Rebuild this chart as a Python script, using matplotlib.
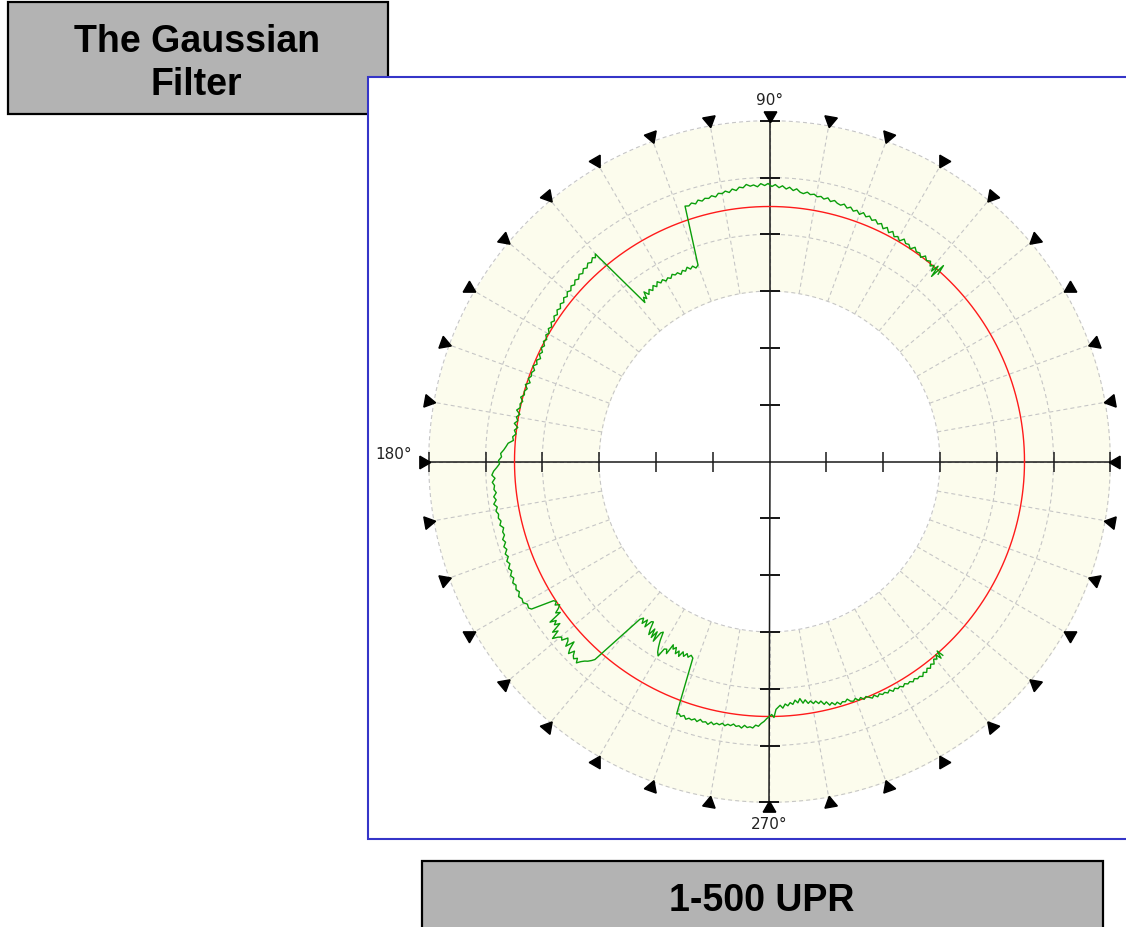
import numpy as np
import matplotlib
matplotlib.use('Agg')
import matplotlib.pyplot as plt
from matplotlib.patches import Rectangle

# ---- data (angle in degrees, radius in chart units) ----
trace_deg = [
    48.0, 48.4, 48.8, 49.2, 49.6, 50.0, 50.6, 51.2, 52.0, 52.8, 53.5, 54.2, 55.0, 55.8,
    56.5, 57.3, 58.0, 58.8, 59.5, 60.3, 61.0, 61.8, 62.5, 63.3, 64.0, 64.8, 65.5, 66.3,
    67.0, 67.8, 68.5, 69.3, 70.0, 70.8, 71.5, 72.3, 73.0, 73.8, 74.5, 75.3, 76.0, 76.8,
    77.5, 78.3, 79.0, 79.8, 80.5, 81.3, 82.0, 82.8, 83.5, 84.3, 85.0, 85.8, 86.5, 87.3,
    88.0, 88.8, 89.5, 90.3, 91.0, 91.8, 92.5, 93.3, 94.0, 94.8, 95.5, 96.3, 97.0, 97.8,
    98.5, 99.3, 100.0, 100.8, 101.5, 102.3, 103.0, 103.8, 104.5, 105.3, 106.0, 106.8,
    107.5, 108.3,
    110.0, 110.8, 111.5, 112.3, 113.0, 113.8, 114.5, 115.3, 116.0, 116.8, 117.5, 118.3,
    119.0, 119.8, 120.5, 121.3, 122.0, 122.8, 123.5, 124.3, 125.0, 125.8, 126.5, 127.0,
    127.5, 128.1,
    130.0, 130.5, 131.0, 131.8, 132.5, 133.3, 134.0, 134.8, 135.5, 136.3, 137.0, 137.8,
    138.5, 139.3, 140.0, 140.8, 141.5, 142.3, 143.0, 143.8, 144.5, 145.3, 146.0, 146.8,
    147.5, 148.3, 149.0, 149.8, 150.5, 151.3, 152.0, 152.8, 153.5, 154.3, 155.0, 155.8,
    156.5, 157.3, 158.0, 158.8, 159.5, 160.3, 161.0, 161.8, 162.5, 163.3, 164.0, 164.8,
    165.5, 166.3, 167.0, 167.8, 168.5, 169.3, 170.0, 170.8, 171.5, 172.3, 173.0, 173.8,
    174.5, 175.3, 176.0, 176.8, 177.5, 178.3, 179.0, 179.8, 180.5, 181.3, 182.0, 182.8,
    183.5, 184.3, 185.0, 185.8, 186.5, 187.3, 188.0, 188.8, 189.5, 190.3, 191.0, 191.8,
    192.5, 193.3, 194.0, 194.8, 195.5, 196.3, 197.0, 197.8, 198.5, 199.3, 200.0, 200.8,
    201.5, 202.3, 203.0, 203.8, 204.5, 205.3, 206.0, 206.8, 207.5, 208.3, 209.0, 209.8,
    210.5, 211.3, 211.8,
    212.8, 213.3, 213.8, 214.3, 214.8, 215.3, 215.8, 216.2, 216.7, 217.2, 217.7, 218.2,
    218.7, 219.2, 219.7, 220.2, 220.7, 221.2, 221.7, 222.2, 222.7, 223.2, 223.7, 224.2,
    224.7, 225.2, 225.7, 226.2, 226.7, 227.2, 227.7, 228.2, 228.6,
    230.6, 231.2, 231.8, 232.4, 233.0, 233.6, 234.1, 234.6, 235.1, 235.6, 236.1, 236.6,
    237.1, 237.6, 238.1, 238.6, 239.1, 239.6, 240.2, 240.7, 241.3, 241.8, 242.3, 242.8,
    243.4, 243.9, 244.5, 245.0, 245.6, 246.2, 246.8, 247.4, 248.0, 248.7,
    249.8, 250.3, 250.8, 251.4, 252.0, 252.6, 253.2, 253.8, 254.4, 255.0, 255.6, 256.2,
    256.8, 257.4, 258.0, 258.6, 259.2, 259.8, 260.4, 261.0, 261.6, 262.2, 262.8, 263.4,
    264.0, 264.6, 265.2, 265.8, 266.4, 267.0, 267.6, 268.2, 268.8, 269.4, 270.0, 270.5,
    271.0, 271.5, 272.0, 272.5, 273.1, 273.7, 274.3, 274.9, 275.5, 276.1, 276.7, 277.3,
    277.9, 278.5, 279.1, 279.7, 280.3, 280.9, 281.5, 282.1, 282.7, 283.3, 283.9, 284.5,
    285.1, 285.7, 286.3, 286.9, 287.5, 288.1, 288.7, 289.3, 289.9, 290.5, 291.1, 291.7,
    292.3, 292.9, 293.5, 294.1, 294.7, 295.3, 295.9, 296.5, 297.1, 297.7, 298.3, 298.9,
    299.5, 300.1, 300.7, 301.3, 301.9, 302.5, 303.1, 303.7, 304.3, 304.9, 305.5, 306.1,
    306.7, 307.3, 307.9, 308.5, 309.1, 309.7, 310.3, 310.7, 311.1, 311.5, 311.8,
]
trace_r = [
    252, 262, 246, 258, 250, 256, 253, 257, 255, 258, 254, 257, 256, 259,
    255, 258, 257, 260, 256, 259, 257, 261, 258, 262, 259, 263, 261, 264,
    262, 265, 263, 266, 263, 266, 264, 267, 265, 268, 266, 267, 269, 267,
    270, 268, 270, 269, 271, 270, 272, 270, 271, 274, 272, 275, 273, 276,
    274, 277, 275, 278, 276, 278, 275, 277, 276, 278, 275, 276, 273, 275,
    272, 274, 272, 273, 270, 272, 270, 271, 269, 271, 268, 270,
    268, 269,
    209, 207, 210, 208, 211, 208, 210, 207, 210, 209, 211, 208,
    210, 208, 211, 209, 212, 208, 211, 207, 210, 206, 211, 204,
    207, 202,
    271, 268, 270, 267, 269, 266, 268, 265, 267, 264, 266, 263,
    265, 262, 264, 261, 263, 260, 262, 259, 261, 258, 260, 257,
    259, 256, 258, 255, 257, 254, 256, 253, 255, 252, 254, 251,
    254, 252, 255, 252, 254, 253, 255, 252, 256, 253, 255, 254,
    257, 254, 256, 255, 258, 254, 257, 255, 258, 254, 257, 255,
    258, 257, 262, 264, 266, 269, 268, 271, 270, 273, 276, 278,
    275, 278, 276, 277, 275, 278, 276, 279, 276, 278, 276, 277,
    275, 277, 274, 276, 275, 278, 276, 279, 277, 280, 278, 281,
    279, 282, 280, 283, 281, 284, 282, 284, 282, 285, 283, 284,
    281, 282, 280,
    257, 255, 258, 254, 257, 262, 258, 272, 266, 270, 265, 276,
    271, 280, 275, 272, 274, 268, 270, 275, 266, 274, 278, 272,
    276, 278, 275, 279, 275, 272, 270, 267, 264,
    204, 201, 206, 200, 207, 199, 198, 206, 211, 203, 212, 204,
    214, 203, 201, 210, 216, 221, 224, 215, 214, 218, 207, 211,
    208, 214, 210, 215, 209, 213, 209, 212, 209, 211,
    269, 268, 270, 268, 271, 269, 270, 268, 270, 267, 269, 268,
    270, 267, 269, 267, 268, 266, 268, 266, 267, 265, 267, 266,
    268, 265, 267, 266, 267, 264, 265, 262, 260, 257, 255, 253,
    256, 248, 246, 244, 247, 243, 245, 242, 244, 240, 243, 239,
    244, 241, 245, 243, 246, 244, 247, 245, 249, 247, 251, 249,
    252, 250, 253, 251, 252, 250, 253, 254, 252, 255, 253, 256,
    254, 256, 258, 256, 259, 257, 259, 258, 260, 258, 261, 259,
    261, 260, 262, 260, 262, 261, 263, 261, 263, 262, 264, 261,
    263, 260, 262, 259, 261, 257, 259, 255, 261, 253, 260,
]
ref_radius = 255              # red reference circle
ring_step = 56.8              # one division of the radial scale
rings = [3, 4, 5, 6]          # dashed circles (in divisions)
axis_ticks = [1, 2, 3, 4, 5, 6]
spoke_deg = list(range(0, 360, 10))
axis_labels = {90: '90°', 180: '180°', 270: '270°'}
title_lines = ['The Gaussian', 'Filter']
caption = '1-500 UPR'

W, H = 1126, 928
fig = plt.figure(figsize=(W / 100, H / 100), dpi=100)
fig.patch.set_facecolor('white')


def fx(px):
    return px / W


def fy(py):
    return 1 - py / H


bold = dict(family='Liberation Sans', weight='bold', fontsize=27, color='black')

# title box (top left)
fig.add_artist(Rectangle((fx(8), fy(115)), 380 / W, 112 / H, transform=fig.transFigure,
                         facecolor='#b3b3b3', edgecolor='black', lw=1.6, zorder=-3))
fig.text(fx(197), fy(52), title_lines[0], ha='center', va='baseline', zorder=-2, **bold)
fig.text(fx(196), fy(95), title_lines[1], ha='center', va='baseline', zorder=-2, **bold)

# chart panel with blue frame
fig.add_artist(Rectangle((fx(368), fy(840)), 0.7, 762 / H, transform=fig.transFigure,
                         facecolor='white', edgecolor='#3535c8', lw=1.5, zorder=-1))

# caption box (bottom)
fig.add_artist(Rectangle((fx(422), -0.02), 681 / W, 66 / H + 0.02, transform=fig.transFigure,
                         facecolor='#b3b3b3', edgecolor='black', lw=1.6, zorder=-1))
fig.text(fx(762), fy(911), caption, ha='center', va='baseline', zorder=-0.5, **bold)

# polar plot
R = 358
cx, cy = 769.5, 462.5
ax = fig.add_axes([fx(cx - R), 1 - (cy + R) / H, 2 * R / W, 2 * R / H], projection='polar')
ax.set_ylim(0, R)
ax.axis('off')

th = np.linspace(0, 2 * np.pi, 721)
rin, rout = rings[0] * ring_step, rings[-1] * ring_step
ax.fill_between(th, rin, rout, color='#fcfced', lw=0, zorder=1)

dash = (0, (3.6, 2.8))
for k in rings:
    ax.plot(th, np.full_like(th, k * ring_step), color='#c6c6c6', lw=0.8, ls=dash, zorder=2)
for a in spoke_deg:
    t = np.radians(a)
    ax.plot([t, t], [rin, rout], color='#c6c6c6', lw=0.8, ls=dash, zorder=2)

# axes cross with ticks
for a in [0, 90, 180, 270]:
    t = np.radians(a)
    ax.plot([t, t], [0, rout], color='#1a1a1a', lw=1.1, zorder=3)
    mk = '|' if a in (0, 180) else '_'
    ax.plot([t] * len(axis_ticks), [k * ring_step for k in axis_ticks], ls='none',
            marker=mk, ms=15, mew=1.1, color='#1a1a1a', zorder=3)

# triangle markers round the outside, pointing at the centre
for a in spoke_deg:
    ax.plot(np.radians(a), 6.1 * ring_step, marker=(3, 0, a + 90), ms=10.5,
            color='black', ls='none', clip_on=False, zorder=4)

# reference circle and profile
ax.plot(th, np.full_like(th, ref_radius), color='#ff1a1a', lw=1.0, zorder=5)
ax.plot(np.radians(trace_deg), trace_r, color='#0a9e0a', lw=1.0, zorder=6)

offsets = {90: (0, 21.5), 180: (-35, 7.5), 270: (0, -21)}
for a, lab in axis_labels.items():
    ax.annotate(lab, xy=(np.radians(a), rout), xytext=offsets[a], textcoords='offset pixels',
                ha='center', va='center', fontsize=11, color='#222222', annotation_clip=False)

fig.savefig('out.png', dpi=100)
